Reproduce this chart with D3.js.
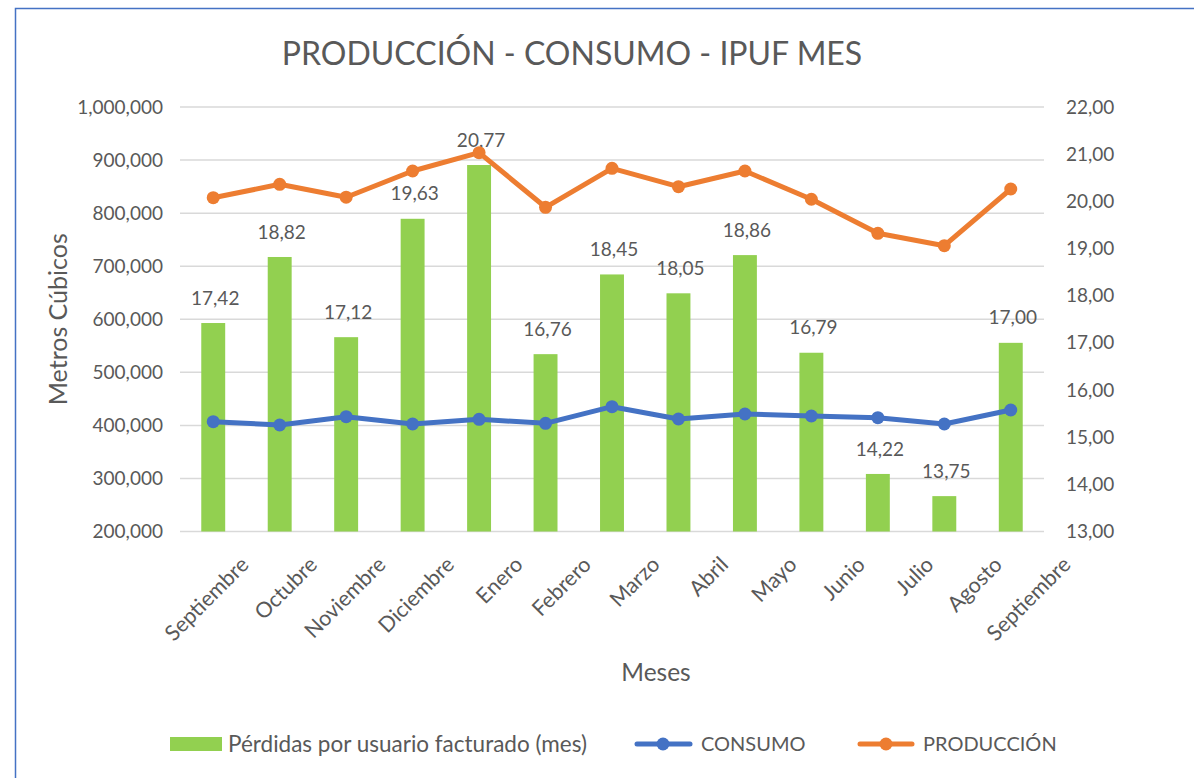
<!DOCTYPE html>
<html>
<head>
<meta charset="utf-8">
<script src="https://cdn.jsdelivr.net/npm/d3@7"></script>
<style>
  html, body { margin: 0; padding: 0; background: #fff; }
  svg { display: block; }
  text { font-family: Lato, "Open Sans", sans-serif; fill: #595959; }
</style>
</head>
<body>
<svg id="chart" width="1194" height="778"></svg>
<script>
// ---- data ----
const months = ["Septiembre","Octubre","Noviembre","Diciembre","Enero","Febrero","Marzo","Abril","Mayo","Junio","Julio","Agosto","Septiembre"];
const perdidas = [17.42, 18.82, 17.12, 19.63, 20.77, 16.76, 18.45, 18.05, 18.86, 16.79, 14.22, 13.75, 17.00];
const consumo = [406900, 400700, 416400, 402600, 411400, 403900, 435200, 412000, 421400, 417700, 414500, 402600, 429000];
const produccion = [829100, 854300, 830000, 879400, 913900, 811000, 884500, 849800, 879400, 826100, 762000, 738600, 845500];
const leftTicks = [200000, 300000, 400000, 500000, 600000, 700000, 800000, 900000, 1000000];
const rightTicks = [13, 14, 15, 16, 17, 18, 19, 20, 21, 22];
const title = "PRODUCCIÓN - CONSUMO - IPUF MES";
const yTitle = "Metros Cúbicos";
const xTitle = "Meses";
const seriesNames = ["Pérdidas por usuario facturado (mes)", "CONSUMO", "PRODUCCIÓN"];

// ---- layout ----
const svg = d3.select("#chart");
const plot = { left: 180, right: 1044, top: 107, bottom: 531.5 };
const colors = { bar: "#92D050", consumo: "#4472C4", produccion: "#ED7D31", grid: "#D9D9D9", text: "#595959" };

// border
svg.append("rect").attr("x", 15.5).attr("y", 8.5).attr("width", 1300).attr("height", 900)
  .attr("fill", "none").attr("stroke", "#4472C4").attr("stroke-width", 1.5);

const idx = months.map((d, i) => i);
const x = d3.scaleBand().domain(idx).range([plot.left, plot.right]).paddingInner(0.64).paddingOuter(0.32);
const xc = i => x(i) + x.bandwidth() / 2;
const xLab = d3.scalePoint().domain(idx).range([250, 1072]);
const yL = d3.scaleLinear().domain([200000, 1000000]).range([plot.bottom, plot.top]);
const yR = d3.scaleLinear().domain([13, 22]).range([plot.bottom, plot.top]);

// gridlines
svg.append("g").selectAll("line").data(leftTicks).join("line")
  .attr("x1", plot.left).attr("x2", plot.right)
  .attr("y1", d => yL(d)).attr("y2", d => yL(d))
  .attr("stroke", colors.grid).attr("stroke-width", 1.5);

// left axis labels
const fmtL = d3.format(",");
svg.append("g").selectAll("text").data(leftTicks).join("text")
  .attr("x", 163).attr("y", d => yL(d)).attr("dy", "0.35em")
  .attr("text-anchor", "end").style("font-size", "19px")
  .text(d => fmtL(d));

// right axis labels
const fmtR = d => d3.format(".2f")(d).replace(".", ",");
svg.append("g").selectAll("text").data(rightTicks).join("text")
  .attr("x", 1066).attr("y", d => yR(d)).attr("dy", "0.35em")
  .attr("text-anchor", "start").style("font-size", "19px")
  .text(d => fmtR(d));

// bars
svg.append("g").selectAll("rect").data(perdidas).join("rect")
  .attr("x", (d, i) => x(i)).attr("width", x.bandwidth())
  .attr("y", d => yR(d)).attr("height", d => yR(13) - yR(d))
  .attr("fill", colors.bar);

// bar labels
svg.append("g").selectAll("text").data(perdidas).join("text")
  .attr("x", (d, i) => xc(i) + 2).attr("y", d => yR(d) - 25).attr("dy", "0.35em")
  .attr("text-anchor", "middle").style("font-size", "19px")
  .text(d => fmtR(d));

// lines
function drawLine(data, color) {
  const line = d3.line().x((d, i) => xc(i)).y(d => yL(d));
  svg.append("path").datum(data).attr("d", line)
    .attr("fill", "none").attr("stroke", color).attr("stroke-width", 5)
    .attr("stroke-linejoin", "round").attr("stroke-linecap", "round");
  svg.append("g").selectAll("circle").data(data).join("circle")
    .attr("cx", (d, i) => xc(i)).attr("cy", d => yL(d)).attr("r", 6.5)
    .attr("fill", color);
}
drawLine(produccion, colors.produccion);
drawLine(consumo, colors.consumo);

// x labels
svg.append("g").selectAll("text").data(months).join("text")
  .attr("transform", (d, i) => `translate(${xLab(i)},566) rotate(-45)`)
  .attr("text-anchor", "end").style("font-size", "21.5px")
  .text(d => d);

// title
svg.append("text").attr("x", 572).attr("y", 65).attr("text-anchor", "middle")
  .style("font-size", "32px").text(title);

// axis titles
svg.append("text").attr("transform", `translate(67,${(plot.top + plot.bottom) / 2}) rotate(-90)`)
  .attr("text-anchor", "middle").style("font-size", "25px").text(yTitle);
svg.append("text").attr("x", 656).attr("y", 681).attr("text-anchor", "middle")
  .style("font-size", "24.5px").text(xTitle);

// legend
const lg = svg.append("g");
const ly = 744;
lg.append("rect").attr("x", 170).attr("y", 737).attr("width", 52).attr("height", 14).attr("fill", colors.bar);
lg.append("text").attr("x", 228).attr("y", ly).attr("dy", "0.35em").style("font-size", "22.5px").text(seriesNames[0]);
[[635, 692, 663, colors.consumo, 701, seriesNames[1]], [858, 914, 886, colors.produccion, 923, seriesNames[2]]].forEach(([a, b, m, c, tx, name]) => {
  lg.append("line").attr("x1", a + 2).attr("x2", b - 2).attr("y1", ly).attr("y2", ly)
    .attr("stroke", c).attr("stroke-width", 5).attr("stroke-linecap", "round");
  lg.append("circle").attr("cx", m).attr("cy", ly).attr("r", 6.5).attr("fill", c);
  lg.append("text").attr("x", tx).attr("y", ly).attr("dy", "0.35em").style("font-size", "20px").text(name);
});
</script>
</body>
</html>
